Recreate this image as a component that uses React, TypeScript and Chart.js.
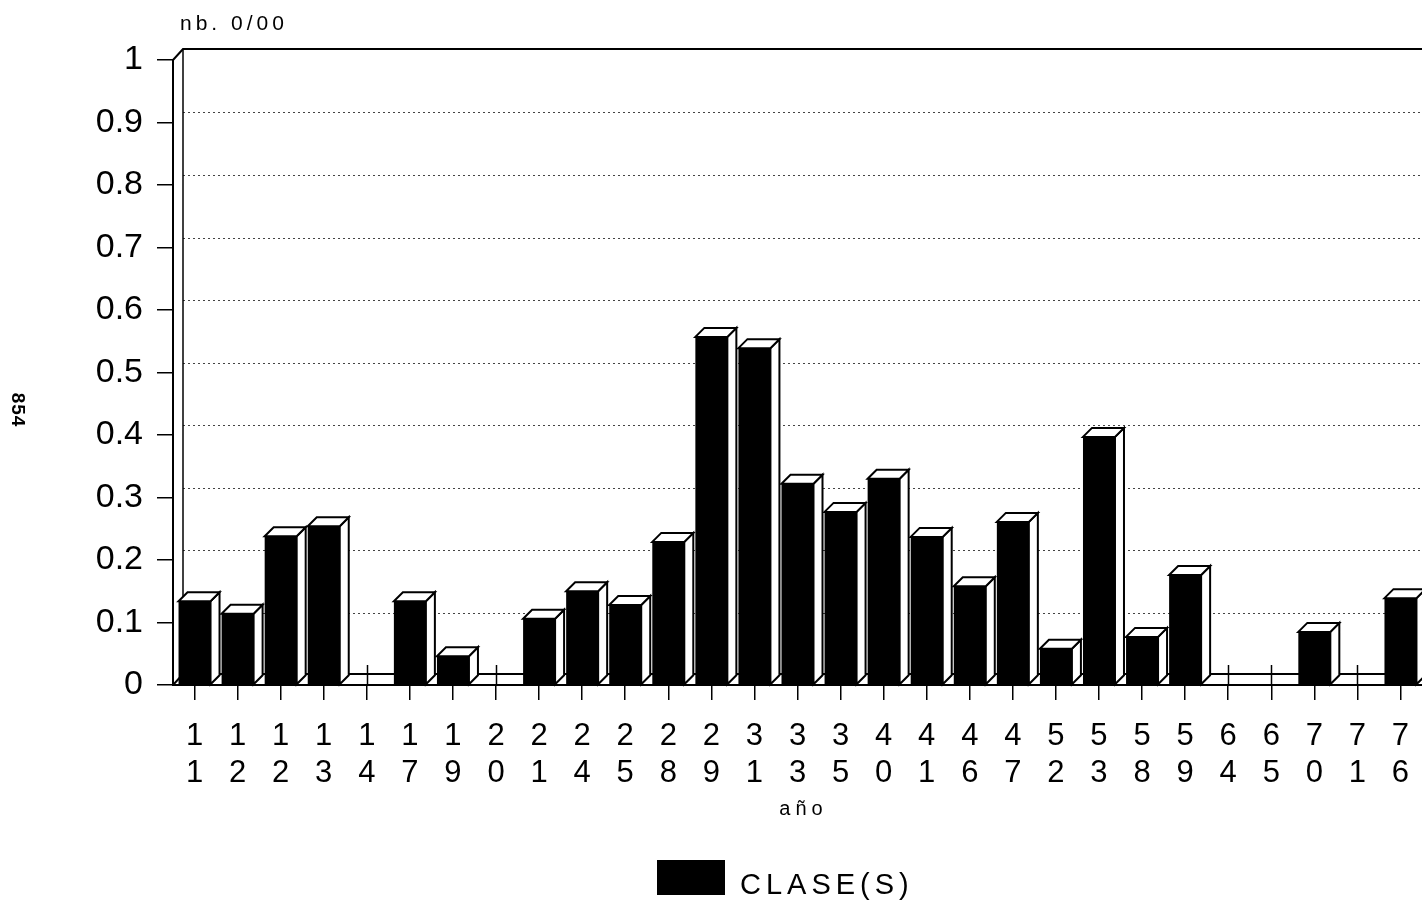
import React, { useEffect, useRef } from "react";
import { Chart, registerables } from "chart.js";

Chart.register(...registerables);

const categories = ["11","12","12","13","14","17","19","20","21","24","25","28","29","31","33","35","40","41","46","47","52","53","58","59","64","65","70","71","76"];
const values = [0.134,0.114,0.238,0.254,0,0.134,0.046,0,0.106,0.15,0.128,0.229,0.557,0.539,0.322,0.277,0.33,0.237,0.158,0.261,0.058,0.397,0.077,0.176,0,0,0.085,0,0.139];
const yTicks = [0,0.1,0.2,0.3,0.4,0.5,0.6,0.7,0.8,0.9,1];
const seriesLabel = "CLASE(S)";
const yTitle = "nb. 0/00";
const xTitle = "año";
const pageNote = "854";

const FONT = "'Liberation Sans', Arial, sans-serif";

const threeD = {
  id: "threeD",
  beforeDatasetsDraw(chart: any) {
    const { ctx, chartArea } = chart;
    const { left, right, top, bottom } = chartArea;
    const y = chart.scales.y;
    const D = 10, DY = 11;
    ctx.save();
    ctx.strokeStyle = "#444";
    ctx.lineWidth = 1;
    ctx.setLineDash([2, 3]);
    yTicks.forEach((v) => {
      if (v <= 0 || v >= 1) return;
      const py = Math.round(y.getPixelForValue(v) - 10) + 0.5;
      ctx.beginPath();
      ctx.moveTo(left + D, py);
      ctx.lineTo(right + 10, py);
      ctx.stroke();
    });
    ctx.setLineDash([]);
    ctx.strokeStyle = "#000";
    ctx.lineWidth = 2;
    ctx.beginPath();
    ctx.moveTo(left, top);
    ctx.lineTo(left + D, top - DY);
    ctx.lineTo(right + 10, top - DY);
    ctx.stroke();
    ctx.lineWidth = 1.5;
    ctx.beginPath();
    ctx.moveTo(left + D, top - DY);
    ctx.lineTo(left + D, bottom - DY);
    ctx.stroke();
    ctx.lineWidth = 2;
    ctx.beginPath();
    ctx.moveTo(left, bottom);
    ctx.lineTo(left + D, bottom - DY);
    ctx.lineTo(right + 10, bottom - DY);
    ctx.stroke();
    const xs = chart.scales.x;
    ctx.lineWidth = 1.5;
    values.forEach((v, i) => {
      if (v > 0) return;
      const px = Math.round(xs.getPixelForValue(i)) + 0.5;
      ctx.beginPath();
      ctx.moveTo(px, bottom - 20);
      ctx.lineTo(px, bottom);
      ctx.stroke();
    });
    ctx.restore();
  },
  afterDatasetsDraw(chart: any) {
    const { ctx } = chart;
    const meta = chart.getDatasetMeta(0);
    const dx = 9, dy = 9;
    ctx.save();
    ctx.strokeStyle = "#000";
    ctx.fillStyle = "#fff";
    ctx.lineWidth = 2;
    meta.data.forEach((el: any, i: number) => {
      if (!(values[i] > 0)) return;
      const p = el.getProps(["x", "y", "base", "width"], true);
      const xl = p.x - p.width / 2;
      const xr = p.x + p.width / 2;
      ctx.beginPath();
      ctx.moveTo(xr, p.y);
      ctx.lineTo(xr + dx, p.y - dy);
      ctx.lineTo(xr + dx, p.base - dy);
      ctx.lineTo(xr, p.base);
      ctx.closePath();
      ctx.fill();
      ctx.stroke();
      ctx.beginPath();
      ctx.moveTo(xl, p.y);
      ctx.lineTo(xl + dx, p.y - dy);
      ctx.lineTo(xr + dx, p.y - dy);
      ctx.lineTo(xr, p.y);
      ctx.closePath();
      ctx.fill();
      ctx.stroke();
    });
    ctx.restore();
  },
  afterDraw(chart: any) {
    const { ctx, chartArea } = chart;
    ctx.save();
    ctx.fillStyle = "#000";
    ctx.font = `21px ${FONT}`;
    (ctx as any).letterSpacing = "4px";
    ctx.textAlign = "left";
    ctx.textBaseline = "alphabetic";
    ctx.fillText(yTitle, chartArea.left + 7, 30);
    ctx.font = `20px ${FONT}`;
    (ctx as any).letterSpacing = "5px";
    ctx.textAlign = "center";
    ctx.fillText(xTitle, (chartArea.left + chartArea.right) / 2 + 6, 815);
    ctx.fillRect(657, 860, 68, 35);
    ctx.font = `29px ${FONT}`;
    (ctx as any).letterSpacing = "5px";
    ctx.textAlign = "left";
    ctx.fillText(seriesLabel, 740, 894);
    (ctx as any).letterSpacing = "1px";
    ctx.translate(17, 410);
    ctx.rotate(Math.PI / 2);
    ctx.font = `bold 19px ${FONT}`;
    ctx.textAlign = "center";
    ctx.textBaseline = "middle";
    ctx.fillText(pageNote, 0, 0);
    ctx.restore();
  },
};

export default function App() {
  const ref = useRef<HTMLCanvasElement | null>(null);
  useEffect(() => {
    if (!ref.current) return;
    const chart = new Chart(ref.current, {
      type: "bar",
      data: {
        labels: categories.map((c) => c.split("")),
        datasets: [
          {
            label: seriesLabel,
            data: values,
            backgroundColor: "#000",
            borderColor: "#000",
            borderWidth: 0,
            barPercentage: 0.743,
            categoryPercentage: 1,
          },
        ],
      },
      options: {
        responsive: false,
        animation: false,
        layout: { padding: { top: 60, left: 0, right: 0, bottom: 85 } },
        plugins: {
          legend: { display: false },
          tooltip: { enabled: false },
          title: { display: false },
        },
        scales: {
          x: {
            offset: true,
            grid: {
              display: true,
              drawOnChartArea: false,
              drawTicks: true,
              tickLength: 15,
              offset: false,
              color: "#000",
              lineWidth: 1.5,
            },
            border: { display: true, color: "#000", width: 2 },
            ticks: {
              color: "#000",
              font: { family: FONT, size: 31, lineHeight: 1.2 },
              padding: 18,
              maxRotation: 0,
              autoSkip: false,
            },
            afterFit: (s: any) => {
              s.height = 130;
              s.paddingLeft = 0;
              s.paddingRight = 0;
            },
          },
          y: {
            min: 0,
            max: 1,
            grid: {
              display: true,
              drawOnChartArea: false,
              drawTicks: true,
              tickLength: 16,
              color: "#000",
              lineWidth: 1.5,
            },
            border: { display: true, color: "#000", width: 2 },
            ticks: {
              stepSize: 0.1,
              color: "#000",
              font: { family: FONT, size: 34 },
              padding: 14,
              callback: (v: any) => String(Number(Number(v).toFixed(1))),
            },
            afterFit: (s: any) => {
              s.width = 173;
            },
          },
        },
      },
      plugins: [threeD],
    });
    return () => chart.destroy();
  }, []);
  return (
    <div style={{ position: "absolute", left: 0, top: 0, width: 1422, height: 900, background: "#fff" }}>
      <canvas ref={ref} width={1422} height={900} />
    </div>
  );
}
